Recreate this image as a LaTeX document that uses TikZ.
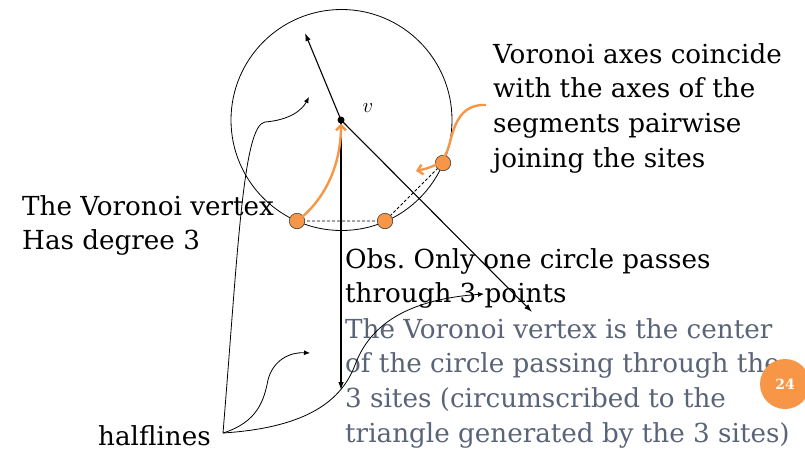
\documentclass[tikz,border=0pt]{standalone}
\usepackage{fontspec}
\setmainfont{DejaVu Serif}
\usetikzlibrary{arrows.meta}
\definecolor{orng}{HTML}{F79646}
\definecolor{slate}{HTML}{5A6478}
\frenchspacing
\tikzset{
  txt/.style={anchor=north west,inner sep=0pt,align=left,font=\fontsize{26.2}{34.7}\selectfont},
  halfline/.style={line width=1.1pt,-{Latex[length=8pt,width=5.5pt]}},
  pointer/.style={line width=0.8pt,-{Latex[length=6pt,width=5pt]}},
  orangearrow/.style={draw=orng,line width=2.4pt,-{Straight Barb[length=5pt,width=10pt]}},
  site/.style={circle,fill=orng,draw=black!75,line width=0.6pt,minimum size=15.5pt,inner sep=0pt},
  chord/.style={line width=0.8pt,dash pattern=on 3pt off 2pt},
}
\begin{document}
\begin{tikzpicture}[x=1pt,y=-1pt]
\useasboundingbox (0,0) rectangle (805,453);
% circle and vertex
\node[circle,draw,line width=0.8pt,minimum size=221pt,inner sep=0pt] (circ) at (341.5,120) {};
\node[circle,fill=black,minimum size=7pt,inner sep=0pt] (v) at (341,120) {};
\node[font=\fontsize{20}{24}\selectfont] (vlab) at (368,108) {$v$};
% halflines
\coordinate (e1) at (305,33);
\coordinate (e2) at (341,390);
\coordinate (e3) at (532,312);
\draw[halfline] (v.center) -- (e1);
\draw[halfline] (v.center) -- (e2);
\draw[halfline] (v.center) -- (e3);
% sites
\coordinate (p1) at (297,221);
\coordinate (p2) at (385,221);
\coordinate (p3) at (443,163);
\draw[chord] (p1) -- (p2) -- (p3);
\node[site] (s1) at (p1) {};
\node[site] (s2) at (p2) {};
\node[site] (s3) at (p3) {};
% texts
\node[txt] (t1) at (493,38.7) {\strut Voronoi axes coincide\\with the axes of the\\segments pairwise\\joining the sites};
\node[txt] (t2) at (22,190.7) {\strut The Voronoi vertex\\Has degree 3};
\node[txt] (t3) at (345,243.7) {\strut Obs. Only one circle passes\\through 3 points};
\node[txt,text=slate] (t4) at (345,313.7) {\strut The Voronoi vertex is the center\\of the circle passing through the\\3 sites (circumscribed to the\\triangle generated by the 3 sites)};
\node[anchor=base west,inner sep=0pt,font=\fontsize{26.2}{34.7}\selectfont] (hl) at (98,445) {halflines};
% orange arrows
\coordinate (o2s) at (486,105);
\draw[orangearrow] (s1.center) .. controls (325,200) and (341,165) .. (v.south);
\draw[orangearrow] (o2s) .. controls (462,104) and (455,122) .. (450,142) .. controls (445,162) and (438,166) .. (416,171);
% pointers from "halflines"
\coordinate (h0) at (223,433);
\coordinate (a1) at (309,97);
\coordinate (b1) at (310,353);
\coordinate (c1) at (484,294);
\draw[pointer] (h0) .. controls (238,250) and (243,125) .. (265,122) .. controls (290,120) and (302,110) .. (a1);
\draw[pointer] (h0) .. controls (258,422) and (264,400) .. (268,380) .. controls (273,360) and (290,352) .. (b1);
\draw[pointer] (h0) .. controls (300,428) and (340,405) .. (355,365) .. controls (368,330) and (400,300) .. (c1);
% page number
\node[circle,fill=orng,minimum size=50pt,inner sep=0pt,text=white,font=\fontsize{14}{16}\selectfont\bfseries] (pg) at (785,384) {24};
\end{tikzpicture}
\end{document}
